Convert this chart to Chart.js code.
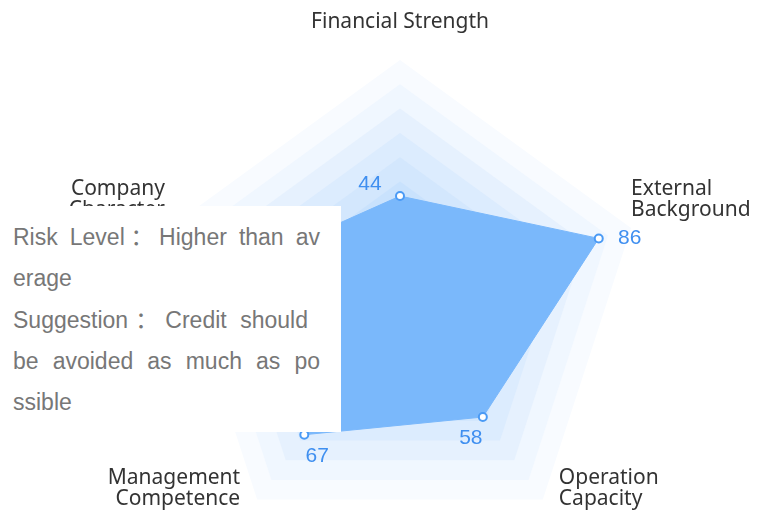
<!DOCTYPE html>
<html>
<head>
<meta charset="utf-8">
<script src="https://cdn.jsdelivr.net/npm/chart.js@4.4.0/dist/chart.umd.min.js"></script>
<style>
  html, body { margin: 0; padding: 0; background: #fff; overflow: hidden; }
  #wrap { position: relative; width: 768px; height: 511px; overflow: hidden; }
  #radar { position: absolute; left: 0; top: 0; }
  #tip {
    position: absolute; left: 0; top: 206px; width: 341px; height: 226px;
    background: #fff; box-sizing: border-box; padding: 11px 21px 0 13px;
    font-family: "Liberation Sans", "Noto Sans CJK SC", sans-serif; font-size: 23px;
    line-height: 41.3px; color: #777;
  }
  #tip div { white-space: nowrap; }
  #tip .j { text-align: justify; text-align-last: justify; white-space: normal; }
</style>
</head>
<body>
<div id="wrap">
  <canvas id="radar" width="768" height="560"></canvas>
  <div id="tip">
    <div class="j">Risk Level：Higher than av</div>
    <div>erage</div>
    <div class="j" style="width:295px">Suggestion：Credit should</div>
    <div class="j">be avoided as much as po</div>
    <div>ssible</div>
  </div>
</div>
<script>
const indicators = [
  ["Financial Strength"],
  ["External", "Background"],
  ["Operation", "Capacity"],
  ["Management", "Competence"],
  ["Company", "Character"]
];
const scores = [44, 86, 58, 67, 60];
const levels = [100, 90, 80, 70, 60, 50, 40, 30, 20, 10];

const bandColors = ['#f8fbff', '#f0f7ff', '#e6f1fe', '#dcecfe', '#d3e7fd',
                    '#c9e2fd', '#bfdcfc', '#b5d7fc', '#abd1fb', '#a1ccfb'];
const lineBlue = '#4a9af5';
const valueBlue = '#3f8ff0';

// where each axis name sits relative to the outer vertex
const nameStyle = [
  { align: 'center', dx: 0, dy: -27, v: 'bottom' },
  { align: 'left', dx: 0, dy: -7, v: 'bottom' },
  { align: 'left', dx: 16, dy: -11, v: 'middle' },
  { align: 'right', dx: -17, dy: -11, v: 'middle' },
  { align: 'right', dx: -4, dy: -7, v: 'bottom' }
];
// value label offsets relative to each point
const valueOffsets = [[-30, -12], [31, 0], [-12, 21], [13, 21], [-30, 0]];

const bands = {
  id: 'bands',
  beforeDatasetsDraw(chart) {
    const { ctx } = chart;
    const r = chart.scales.r;
    ctx.save();
    levels.forEach((lv, k) => {
      const d = r.getDistanceFromCenterForValue(lv);
      ctx.beginPath();
      for (let i = 0; i < indicators.length; i++) {
        const p = r.getPointPosition(i, d);
        if (i === 0) ctx.moveTo(p.x, p.y); else ctx.lineTo(p.x, p.y);
      }
      ctx.closePath();
      ctx.fillStyle = bandColors[k];
      ctx.fill();
    });
    ctx.restore();
  }
};

const axisNames = {
  id: 'axisNames',
  afterDraw(chart) {
    const { ctx } = chart;
    const r = chart.scales.r;
    const lh = 21;
    ctx.save();
    ctx.font = '21px "Noto Sans", sans-serif';
    ctx.fillStyle = '#333';
    ctx.textBaseline = 'middle';
    indicators.forEach((lines, i) => {
      const p = r.getPointPosition(i, r.drawingArea);
      const s = nameStyle[i];
      const x = p.x + s.dx;
      const y = p.y + s.dy;
      const top = s.v === 'bottom' ? y - lines.length * lh : y - lines.length * lh / 2;
      ctx.textAlign = s.align;
      lines.forEach((t, j) => ctx.fillText(t, x, top + lh * j + lh / 2));
    });
    ctx.restore();
  }
};

const valueLabels = {
  id: 'valueLabels',
  afterDatasetsDraw(chart) {
    const { ctx } = chart;
    const meta = chart.getDatasetMeta(0);
    ctx.save();
    ctx.font = '21px "Liberation Sans", Arial, sans-serif';
    ctx.fillStyle = valueBlue;
    ctx.textAlign = 'center';
    ctx.textBaseline = 'middle';
    meta.data.forEach((pt, i) => {
      ctx.fillText(String(scores[i]), pt.x + valueOffsets[i][0], pt.y + valueOffsets[i][1]);
    });
    ctx.restore();
  }
};

new Chart(document.getElementById('radar'), {
  type: 'radar',
  data: {
    labels: indicators,
    datasets: [{
      data: scores,
      backgroundColor: '#7ab8fb',
      borderColor: '#7ab8fb',
      borderWidth: 1,
      pointRadius: 4,
      pointBorderWidth: 2,
      pointBackgroundColor: '#fff',
      pointBorderColor: lineBlue,
      fill: true
    }]
  },
  options: {
    responsive: false,
    animation: false,
    layout: { padding: { left: 157, right: 125, top: 60, bottom: 14 } },
    plugins: { legend: { display: false }, tooltip: { enabled: false } },
    scales: {
      r: {
        min: 0,
        max: 100,
        ticks: { display: false, stepSize: 10 },
        grid: { display: false },
        angleLines: { display: false },
        pointLabels: { display: false }
      }
    }
  },
  plugins: [bands, axisNames, valueLabels]
});
</script>
</body>
</html>
